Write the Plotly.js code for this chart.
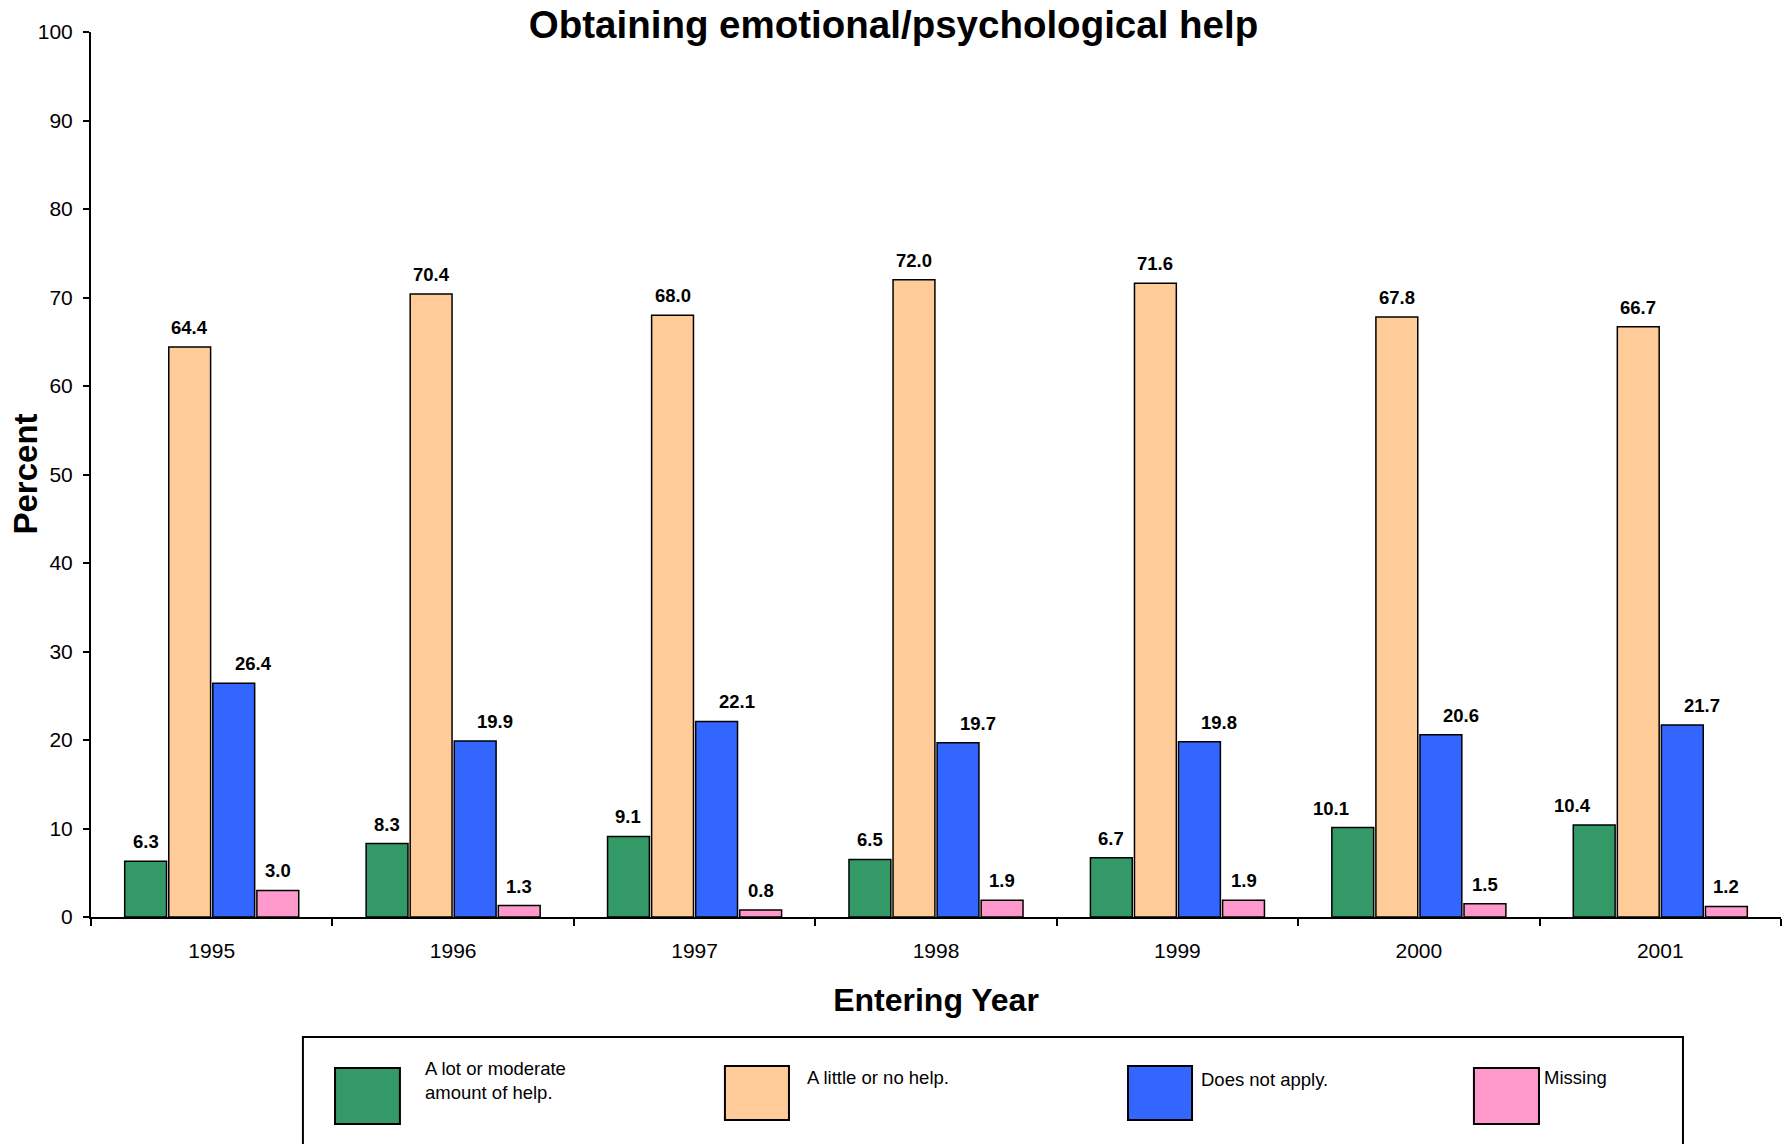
<!DOCTYPE html>
<html>
<head>
<meta charset="utf-8">
<script src="https://cdn.plot.ly/plotly-3.0.1.min.js"></script>
<style>html,body{margin:0;padding:0;background:#fff;}#chart{width:1787px;height:1144px;}</style>
</head>
<body>
<div id="chart"></div>
<script>
// ---- data ----
const years = ["1995", "1996", "1997", "1998", "1999", "2000", "2001"];
const seriesNames = ["A lot or moderate<br>amount of help.", "A little or no help.", "Does not apply.", "Missing"];
const lotModerate = [6.3, 8.3, 9.1, 6.5, 6.7, 10.1, 10.4];
const littleNone  = [64.4, 70.4, 68.0, 72.0, 71.6, 67.8, 66.7];
const notApply    = [26.4, 19.9, 22.1, 19.7, 19.8, 20.6, 21.7];
const missing     = [3.0, 1.3, 0.8, 1.9, 1.9, 1.5, 1.2];
const yTicks = [0, 10, 20, 30, 40, 50, 60, 70, 80, 90, 100];

// ---- style ----
const FONT = "Arial, 'Liberation Sans', sans-serif";
const colors = ["#339966", "#FFCC99", "#3366FF", "#FF99CC"];
const allSeries = [lotModerate, littleNone, notApply, missing];
const BARGAP = 0.27, GROUPGAP = 0.05;

const traces = allSeries.map((vals, k) => ({
  type: "bar",
  x: years,
  y: vals,
  name: seriesNames[k],
  marker: { color: colors[k], line: { color: "#000", width: 1.5 } },
  hoverinfo: "skip"
}));

// data labels placed through axis scale
const annotations = [];
const slot = (1 - BARGAP) / 4;
allSeries.forEach((vals, k) => {
  vals.forEach((v, i) => {
    let xs = 0;
    if (k === 2) xs = 20;
    if (k === 0 && v >= 10) xs = -22;
    annotations.push({
      x: i + (k - 1.5) * slot, y: v, xref: "x", yref: "y",
      text: v.toFixed(1), showarrow: false,
      yanchor: "bottom", xanchor: "center", yshift: 7, xshift: xs,
      font: { family: FONT, size: 18.5, color: "#000", weight: "bold" }
    });
  });
});

// y-axis title
annotations.push({
  xref: "paper", yref: "paper", x: 0, y: 0.5, xshift: -66, xanchor: "center", yanchor: "middle",
  textangle: -90, showarrow: false, text: "Percent",
  font: { family: FONT, size: 33, color: "#000", weight: "bold" }
});

// custom legend (paper coords)
const shapes = [{
  type: "rect", xref: "paper", yref: "paper",
  x0: 0.1254, x1: 0.942, y0: -0.1356, y1: -0.27,
  line: { color: "#000", width: 2 }, fillcolor: "rgba(0,0,0,0)"
}];
const sw = [
  [0.1444, 0.1828, -0.1706, -0.2339],
  [0.3751, 0.4130, -0.1684, -0.2294],
  [0.6136, 0.6515, -0.1684, -0.2294],
  [0.8183, 0.8568, -0.1706, -0.2339]
];
const lt = [[0.1976, -0.1853], [0.4237, -0.1808], [0.6568, -0.1831], [0.8598, -0.1808]];
sw.forEach((s, k) => {
  shapes.push({ type: "rect", xref: "paper", yref: "paper", x0: s[0], x1: s[1], y0: s[2], y1: s[3],
    line: { color: "#000", width: 2 }, fillcolor: colors[k] });
  annotations.push({ xref: "paper", yref: "paper", x: lt[k][0], y: lt[k][1], xanchor: "left", yanchor: "middle",
    xshift: -2, align: "left", showarrow: false, text: seriesNames[k],
    font: { family: FONT, size: 18.5, color: "#000" } });
});

const layout = {
  width: 1787, height: 1144,
  margin: { l: 91, r: 6, t: 32, b: 227, autoexpand: false },
  paper_bgcolor: "#fff", plot_bgcolor: "#fff",
  font: { family: FONT, color: "#000" },
  showlegend: false,
  barmode: "group", bargap: BARGAP, bargroupgap: GROUPGAP,
  title: { text: "Obtaining emotional/psychological help", x: 0.5, xref: "container",
    y: 1 - 25 / 1144, yref: "container", yanchor: "middle",
    font: { family: FONT, size: 38.5, color: "#000", weight: "bold" } },
  xaxis: {
    type: "category", range: [-0.5, 6.5],
    showline: true, linecolor: "#000", linewidth: 2,
    ticks: "outside", tickson: "boundaries", ticklen: 7, tickwidth: 2, tickcolor: "#000",
    ticklabelstandoff: 14,
    tickfont: { family: FONT, size: 21, color: "#000" },
    showgrid: false, zeroline: false, automargin: false,
    title: { text: "Entering Year", standoff: 27, font: { family: FONT, size: 32, color: "#000", weight: "bold" } }
  },
  yaxis: {
    range: [0, 100], tickvals: yTicks,
    showline: true, linecolor: "#000", linewidth: 2,
    ticks: "outside", ticklen: 6, tickwidth: 2, tickcolor: "#000",
    ticklabelstandoff: 6,
    tickfont: { family: FONT, size: 21, color: "#000" },
    showgrid: false, zeroline: false, automargin: false
  },
  annotations: annotations,
  shapes: shapes
};

Plotly.newPlot("chart", traces, layout, { displayModeBar: false, staticPlot: true });
</script>
</body>
</html>
